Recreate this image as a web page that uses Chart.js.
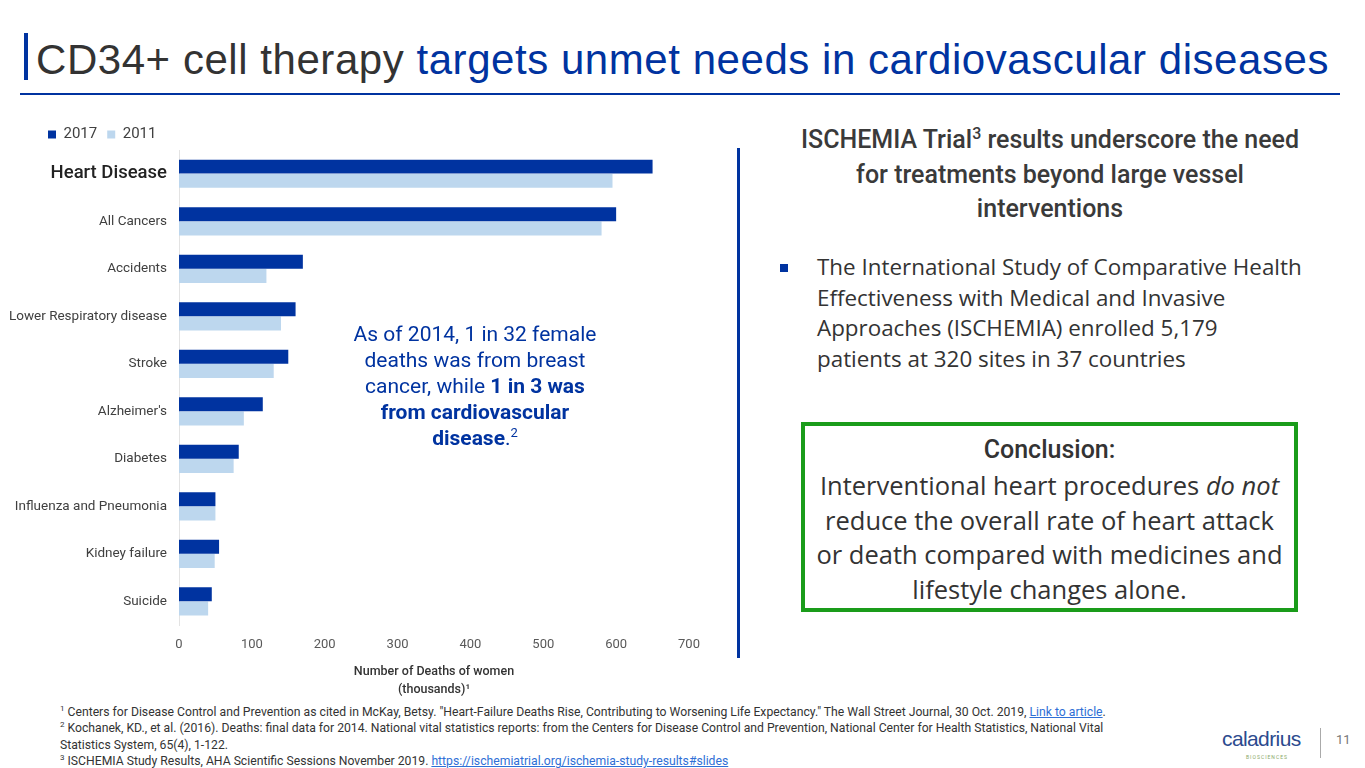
<!DOCTYPE html>
<html>
<head>
<meta charset="utf-8">
<script src="https://cdn.jsdelivr.net/npm/chart.js@4.4.1/dist/chart.umd.min.js"></script>
<style>
  html, body { margin: 0; padding: 0; background: #fff; }
  body { width: 1365px; height: 768px; position: relative; overflow: hidden; font-family: Roboto, "Liberation Sans", sans-serif; color: #333; }
  .abs { position: absolute; }
  sup { line-height: 0; }
  #titleBar { left: 24px; top: 33px; width: 4px; height: 47px; background: #0033a0; }
  #title { left: 36px; top: 36px; font-family: "Liberation Sans", Arial, sans-serif; font-size: 42px; line-height: 48px; white-space: nowrap; color: #333; letter-spacing: 0.55px; }
  #title span { color: #0033a0; }
  #titleRule { left: 20px; top: 93px; width: 1320px; height: 2px; background: #0033a0; }
  #chartBox { left: 0; top: 115px; width: 720px; height: 584px; }
  #note { left: 325px; top: 321px; width: 300px; text-align: center; color: #0033a0; font-size: 21px; line-height: 26px; }
  #note sup { font-size: 13px; }
  #divider { left: 737px; top: 148px; width: 3px; height: 510px; background: #0033a0; }
  #rhead { left: 760px; top: 123px; width: 580px; text-align: center; font-size: 25px; line-height: 34.5px; font-weight: 500; color: #3a3a3a; white-space: nowrap; }
  #rhead sup { font-size: 16px; }
  #bullet { left: 780px; top: 264px; width: 8px; height: 8px; background: #0033a0; }
  #btext { left: 817px; top: 252px; font-family: "Open Sans", sans-serif; font-size: 22.4px; line-height: 30.6px; color: #333; white-space: nowrap; }
  #concl { left: 801px; top: 422px; width: 489px; height: 177px; border: 4px solid #1a9c1a; text-align: center; font-family: "Open Sans", sans-serif; font-size: 25.5px; line-height: 34.8px; color: #333; padding-top: 5px; box-sizing: content-box; white-space: nowrap; }
  #concl b { font-family: Roboto, sans-serif; font-weight: 500; font-size: 25px; }
  #foot { left: 60px; top: 704px; font-size: 12.2px; line-height: 16.4px; color: #333; white-space: nowrap; }
  #foot a { color: #2f6fd6; text-decoration: underline; }
  #foot sup { font-size: 8px; }
  #logo { left: 1222px; top: 727px; font-size: 21px; color: #2c4a8e; font-family: "Liberation Sans", sans-serif; letter-spacing: -0.6px; }
  #logoSub { left: 1246px; top: 754px; font-size: 5px; color: #8aa868; letter-spacing: 1px; }
  #logoRule { left: 1320px; top: 728px; width: 1px; height: 30px; background: #aaa; }
  #pageNo { left: 1336px; top: 732px; font-size: 13px; color: #777; }
</style>
</head>
<body>
<div class="abs" id="titleBar"></div>
<div class="abs" id="title">CD34+ cell therapy <span>targets unmet needs in cardiovascular diseases</span></div>
<div class="abs" id="titleRule"></div>

<div class="abs" id="chartBox"><canvas id="deaths-chart"></canvas></div>

<div class="abs" id="note">As of 2014, 1 in 32 female<br>deaths was from breast<br>cancer, while <b>1 in 3 was<br>from cardiovascular<br>disease</b>.<sup>2</sup></div>

<div class="abs" id="divider"></div>
<div class="abs" id="rhead">ISCHEMIA Trial<sup>3</sup> results underscore the need<br>for treatments beyond large vessel<br>interventions</div>
<div class="abs" id="bullet"></div>
<div class="abs" id="btext">The International Study of Comparative Health<br>Effectiveness with Medical and Invasive<br>Approaches (ISCHEMIA) enrolled 5,179<br>patients at 320 sites in 37 countries</div>
<div class="abs" id="concl"><b>Conclusion:</b><br>Interventional heart procedures <i>do not</i><br>reduce the overall rate of heart attack<br>or death compared with medicines and<br>lifestyle changes alone.</div>

<div class="abs" id="foot">
<sup>1</sup> Centers for Disease Control and Prevention as cited in McKay, Betsy. "Heart-Failure Deaths Rise, Contributing to Worsening Life Expectancy." The Wall Street Journal, 30 Oct. 2019, <a>Link to article</a>.<br>
<sup>2</sup> Kochanek, KD., et al. (2016). Deaths: final data for 2014. National vital statistics reports: from the Centers for Disease Control and Prevention, National Center for Health Statistics, National Vital<br>
Statistics System, 65(4), 1-122.<br>
<sup>3</sup> ISCHEMIA Study Results, AHA Scientific Sessions November 2019. <a>https://ischemiatrial.org/ischemia-study-results#slides</a>
</div>
<div class="abs" id="logo">caladrius</div>
<div class="abs" id="logoSub">BIOSCIENCES</div>
<div class="abs" id="logoRule"></div>
<div class="abs" id="pageNo">11</div>

<script>
// Leading causes of death among women (thousands)
const causes = ['Heart Disease', 'All Cancers', 'Accidents', 'Lower Respiratory disease', 'Stroke',
    "Alzheimer's", 'Diabetes', 'Influenza and Pneumonia', 'Kidney failure', 'Suicide'];
const deaths2017 = [650, 600, 170, 160, 150, 115, 82, 50, 55, 45];
const deaths2011 = [595, 580, 120, 140, 130, 89, 75, 50, 49, 40];
const xTicks = [0, 100, 200, 300, 400, 500, 600, 700];

// nudge the legend so it sits over the labels like the slide
const legendShift = {
    id: 'legendShift',
    afterLayout(chart) {
        const lg = chart.legend;
        lg.left += 38;
        lg.right += 38;
        lg.top += 2;
        lg.bottom += 2;
    }
};

const ctx = document.getElementById('deaths-chart').getContext('2d');

new Chart(ctx, {
    type: 'bar',
    data: {
        labels: causes,
        datasets: [
            {
                label: '2017',
                data: deaths2017,
                backgroundColor: '#0033a0',
                categoryPercentage: 0.6,
                barPercentage: 0.98
            },
            {
                label: '2011',
                data: deaths2011,
                backgroundColor: '#bdd7ee',
                categoryPercentage: 0.6,
                barPercentage: 0.98
            }
        ]
    },
    options: {
        indexAxis: 'y',
        responsive: true,
        maintainAspectRatio: false,
        animation: false,
        layout: { padding: { left: 0, right: 31, top: 0, bottom: 0 } },
        scales: {
            x: {
                min: 0,
                max: 700,
                afterBuildTicks: scale => {
                    scale.ticks = xTicks.map(v => ({ value: v }));
                },
                grid: { display: false, drawTicks: false },
                border: { display: false },
                ticks: {
                    color: '#595959',
                    padding: 12,
                    font: { family: "Roboto, sans-serif", size: 13 }
                },
                title: {
                    display: true,
                    text: ['Number of Deaths of women', '(thousands)\u00b9'],
                    color: '#333',
                    padding: { top: -2, bottom: 0 },
                    font: { family: "Roboto, sans-serif", size: 12.5, weight: '500', lineHeight: 1.45 }
                }
            },
            y: {
                afterFit: scale => { scale.width = 179; },
                grid: { display: false, drawTicks: false },
                border: { display: true, color: '#e3e3e3', width: 1 },
                ticks: {
                    padding: 12,
                    color: ctx => ctx.index === 0 ? '#222' : '#404040',
                    font: ctx => ctx.index === 0
                        ? { family: "Roboto, sans-serif", size: 18.5, weight: '500' }
                        : { family: "Roboto, sans-serif", size: 13.5 }
                }
            }
        },
        plugins: {
            legend: {
                position: 'top',
                align: 'start',
                labels: {
                    boxWidth: 8,
                    boxHeight: 8,
                    padding: 10,
                    color: '#404040',
                    font: { family: "Roboto, sans-serif", size: 15 }
                }
            },
            tooltip: { enabled: false }
        }
    },
    plugins: [legendShift]
});
</script>
</body>
</html>
